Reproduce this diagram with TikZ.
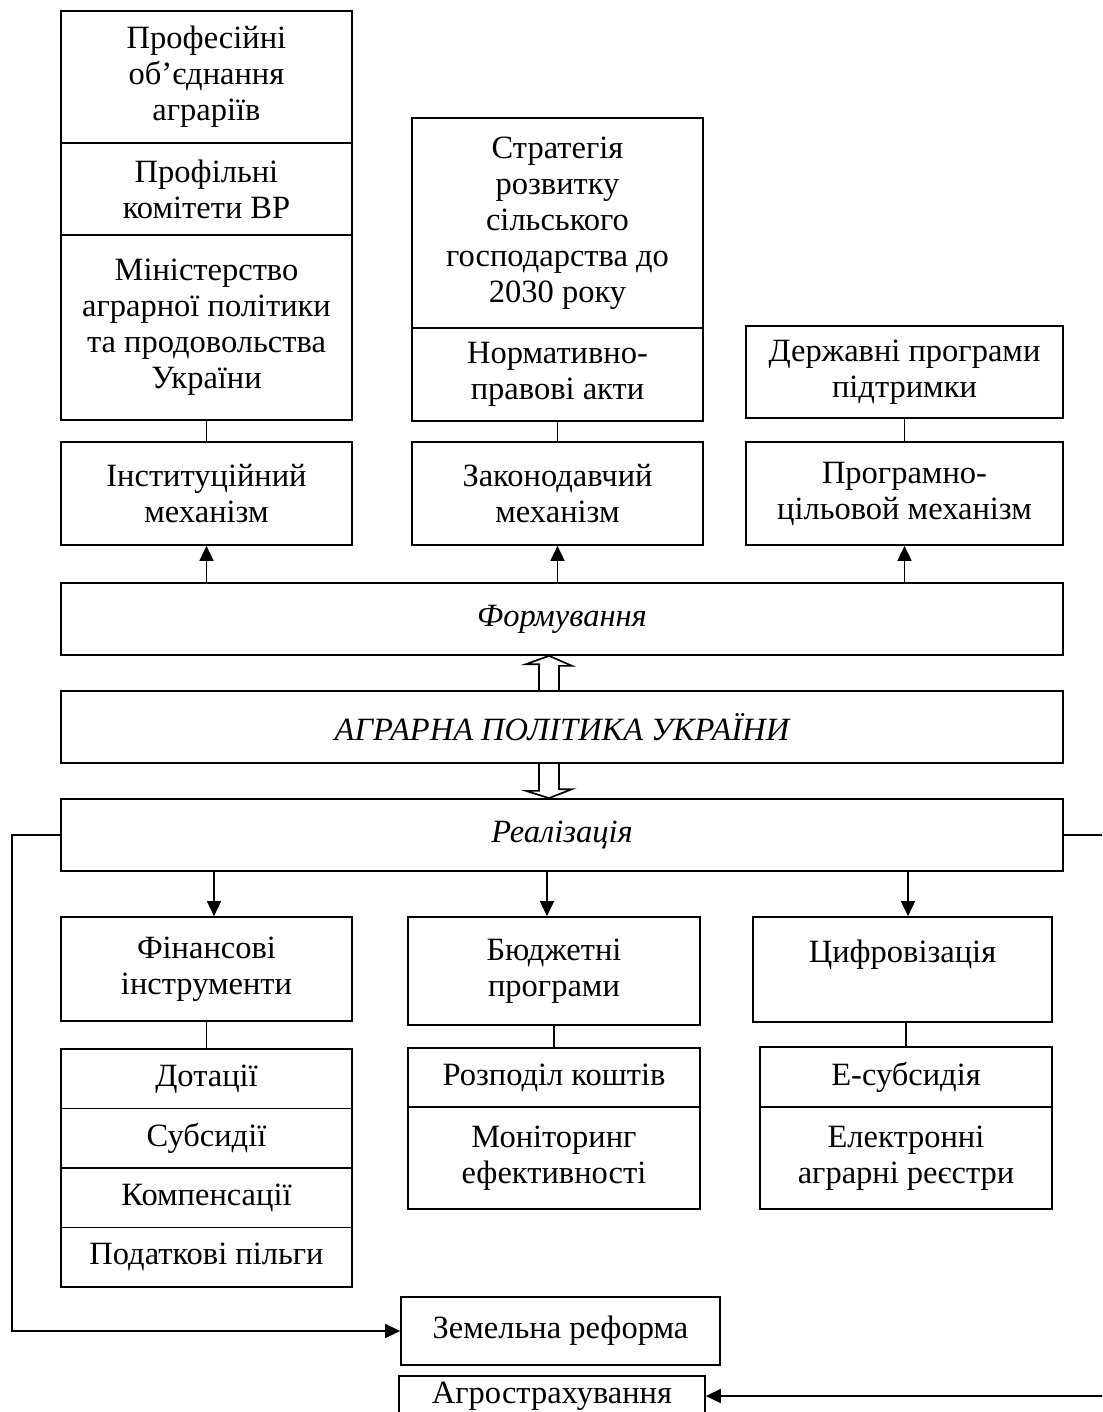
\documentclass[tikz,border=0pt]{standalone}
\usepackage{fontspec}
\setmainfont{Liberation Serif}
\usetikzlibrary{arrows.meta,calc}
\begin{document}
\begin{tikzpicture}[x=1pt,y=-1pt,
  every node/.style={font=\fontsize{32.5}{36}\selectfont},
  bx/.style={draw, line width=1.7pt, rectangle, align=center, inner sep=0pt},
  ln/.style={line width=1.7pt},
  arr/.style={line width=1.7pt, -{Triangle[length=15pt,width=14pt]}},
  it/.style={font=\fontsize{32.5}{36}\selectfont\itshape}
]
\useasboundingbox (0,0) rectangle (1102,1412);
\clip (0,0) rectangle (1102,1412);
\fill[white] (0,0) rectangle (1102,1412);

% column A (top)
\node[bx, minimum width=291pt, minimum height=132pt] (a1) at (206.5,77) {Професійні\\об’єднання\\аграріїв};
\node[bx, minimum width=291pt, minimum height=92pt] (a2) at (206.5,189) {Профільні\\комітети ВР};
\node[bx, minimum width=291pt, minimum height=185pt] (a3) at (206.5,327.5) {Міністерство\\аграрної політики\\та продовольства\\України};
\node[bx, minimum width=291pt, minimum height=103pt] (am) at (206.5,493.5) {Інституційний\\механізм};

% column B (top)
\node[bx, minimum width=291pt, minimum height=210pt] (b1) at (557.5,223) {Стратегія\\розвитку\\сільського\\господарства до\\2030 року};
\node[bx, minimum width=291pt, minimum height=93pt] (b2) at (557.5,374.5) {Нормативно-\\правові акти};
\node[bx, minimum width=291pt, minimum height=103pt] (bm) at (557.5,493.5) {Законодавчий\\механізм};

% column C (top)
\node[bx, minimum width=317pt, minimum height=92pt] (c1) at (904.5,372) {Державні програми\\підтримки};
\node[bx, minimum width=317pt, minimum height=103pt] (cm) at (904.5,493.5) {Програмно-\\цільовой механізм};

% central bands
\node[bx, it, minimum width=1002pt, minimum height=72pt] (form) at (562,619) {Формування};
\node[bx, it, minimum width=1002pt, minimum height=72pt] (agr) at (562,727) {АГРАРНА ПОЛІТИКА УКРАЇНИ};
\node[bx, it, minimum width=1002pt, minimum height=72pt] (real) at (562,835) {Реалізація};

% lower column 1
\node[bx, minimum width=291pt, minimum height=104pt] (fin) at (206.5,969) {Фінансові\\інструменти};
\node[bx, minimum width=291pt, minimum height=59.5pt] (d1) at (206.5,1078.75) {Дотації};
\node[bx, minimum width=291pt, minimum height=59.5pt] (d2) at (206.5,1138.25) {Субсидії};
\node[bx, minimum width=291pt, minimum height=59.5pt] (d3) at (206.5,1197.75) {Компенсації};
\node[bx, minimum width=291pt, minimum height=59.5pt] (d4) at (206.5,1257.25) {Податкові пільги};

% lower column 2
\node[bx, minimum width=292pt, minimum height=108pt] (bud) at (554,971) {Бюджетні\\програми};
\node[bx, minimum width=292pt, minimum height=59pt] (r1) at (554,1077.5) {Розподіл коштів};
\node[bx, minimum width=292pt, minimum height=102pt] (r2) at (554,1158) {Моніторинг\\ефективності};

% lower column 3
\node[bx, minimum width=299pt, minimum height=105pt] (dig) at (902.5,969.5) {Цифровізація\\\mbox{}};
\node[bx, minimum width=292pt, minimum height=60pt] (e1) at (906,1077) {Е-субсидія};
\node[bx, minimum width=292pt, minimum height=102pt] (e2) at (906,1158) {Електронні\\аграрні реєстри};

% bottom boxes
\node[bx, minimum width=319pt, minimum height=68pt] (zem) at (560.5,1331) {Земельна реформа};
\node[bx, minimum width=306pt, minimum height=40pt] (agro) at (552,1396) {Агрострахування};

% helper coordinates
\coordinate (hx) at (549,0);
\coordinate (x1) at (214,0);
\coordinate (x2) at (547,0);
\coordinate (x3) at (908,0);

% plain links
\draw[ln] (a3.south) -- (am.north);
\draw[ln] (b2.south) -- (bm.north);
\draw[ln] (c1.south) -- (cm.north);
\draw[ln] (fin.south) -- (d1.north);
\draw[ln] (bud.south) -- (r1.north);
\draw[ln] (dig.south -| e1.north) -- (e1.north);

% arrows from Формування
\draw[arr] (form.north -| am.south) -- (am.south);
\draw[arr] (form.north -| bm.south) -- (bm.south);
\draw[arr] (form.north -| cm.south) -- (cm.south);

% hollow arrows
\draw[ln, line join=miter] (agr.north -| hx) ++(-10,0) -- ++(0,-26) -- ++(-13,0) -- (form.south -| hx) -- ++(23,10) -- ++(-13,0) -- ++(0,26);
\draw[ln, line join=miter] (agr.south -| hx) ++(-10,0) -- ++(0,27) -- ++(-13,0) -- (real.north -| hx) -- ++(23,-9) -- ++(-13,0) -- ++(0,-27);

% arrows from Реалізація
\draw[arr] (real.south -| x1) -- (fin.north -| x1);
\draw[arr] (real.south -| x2) -- (bud.north -| x2);
\draw[arr] (real.south -| x3) -- (dig.north -| x3);

% side loops
\draw[arr] (real.west) -- ++(-48,0) |- (zem.west);
\draw[arr] (real.east) -- ++(60,0) |- (agro.east);
\end{tikzpicture}
\end{document}
